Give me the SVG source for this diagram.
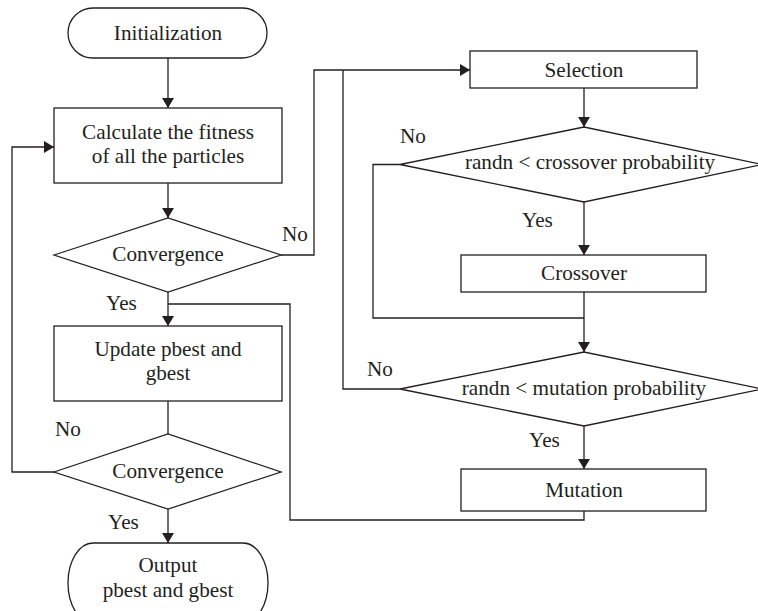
<svg xmlns="http://www.w3.org/2000/svg" width="758" height="611" viewBox="0 0 758 611">
<style>
.s{fill:#fff;stroke:#231f20;stroke-width:1.3}
.c{fill:none;stroke:#231f20;stroke-width:1.3}
.a{marker-end:url(#ah)}
text{font-family:"Liberation Serif","Times New Roman",serif;font-size:21.2px;fill:#231f20}
.m{text-anchor:middle}
</style>
<defs>
<marker id="ah" viewBox="0 0 10 12" refX="10" refY="6" markerWidth="10" markerHeight="12" markerUnits="userSpaceOnUse" orient="auto">
<path d="M0,0 L10,6 L0,12 z" fill="#231f20"/>
</marker>
</defs>
<rect width="758" height="611" fill="#fff"/>
<g id="connectors">
<path class="c a" d="M168,58 V108"/>
<path class="c a" d="M168,183 V218"/>
<path class="c a" d="M168,292 V326"/>
<path class="c" d="M584,511 V520 H290 V304 H168"/>
<path class="c a" d="M281,255 H314 V70 H470"/>
<path class="c a" d="M584,88 V127"/>
<path class="c a" d="M584,202 V255"/>
<path class="c a" d="M584,292 V352"/>
<path class="c" d="M400,164.5 H373 V318 H584"/>
<path class="c" d="M400,389 H343 V70"/>
<path class="c a" d="M584,426 V469"/>
<path class="c" d="M168,401 V434"/>
<path class="c a" d="M54,472 H12 V147 H54"/>
<path class="c a" d="M168,509 V543"/>
</g>
<g id="labels">
<text x="282" y="241">No</text>
<text x="106" y="310">Yes</text>
<text x="55" y="436">No</text>
<text x="108" y="529">Yes</text>
<text x="400" y="143">No</text>
<text x="522" y="227">Yes</text>
<text x="367" y="376">No</text>
<text x="529" y="447">Yes</text>
</g>
<g id="init">
<rect class="s" x="68" y="8" width="199" height="50" rx="25" ry="25"/>
<text class="m" x="168" y="40">Initialization</text>
</g>
<g id="fitness">
<rect class="s" x="54" y="108" width="228" height="75"/>
<text class="m" x="168" y="139">Calculate the fitness</text>
<text class="m" x="168" y="163">of all the particles</text>
</g>
<g id="conv1">
<polygon class="s" points="54,255 168,218 281,255 168,292"/>
<text class="m" x="168" y="261">Convergence</text>
</g>
<g id="update">
<rect class="s" x="54" y="326" width="228" height="75"/>
<text class="m" x="168" y="356">Update pbest and</text>
<text class="m" x="168" y="380">gbest</text>
</g>
<g id="conv2">
<polygon class="s" points="54,472 168,434 281,472 168,509"/>
<text class="m" x="168" y="478">Convergence</text>
</g>
<g id="output">
<rect class="s" x="68" y="543" width="200" height="80" rx="25" ry="40"/>
<text class="m" x="168" y="572">Output</text>
<text class="m" x="168" y="597">pbest and gbest</text>
</g>
<g id="selection">
<rect class="s" x="470" y="51" width="227" height="37"/>
<text class="m" x="584" y="77">Selection</text>
</g>
<g id="crossprob">
<polygon class="s" points="400,164.5 584,127 762,164.5 584,202"/>
<text class="m" x="590" y="169">randn &lt; crossover probability</text>
</g>
<g id="crossover">
<rect class="s" x="461" y="255" width="245" height="37"/>
<text class="m" x="584" y="280">Crossover</text>
</g>
<g id="mutprob">
<polygon class="s" points="400,389 584,352 762,389 584,426"/>
<text class="m" x="584" y="395">randn &lt; mutation probability</text>
</g>
<g id="mutation">
<rect class="s" x="461" y="469" width="245" height="42"/>
<text class="m" x="584" y="497">Mutation</text>
</g>
</svg>
